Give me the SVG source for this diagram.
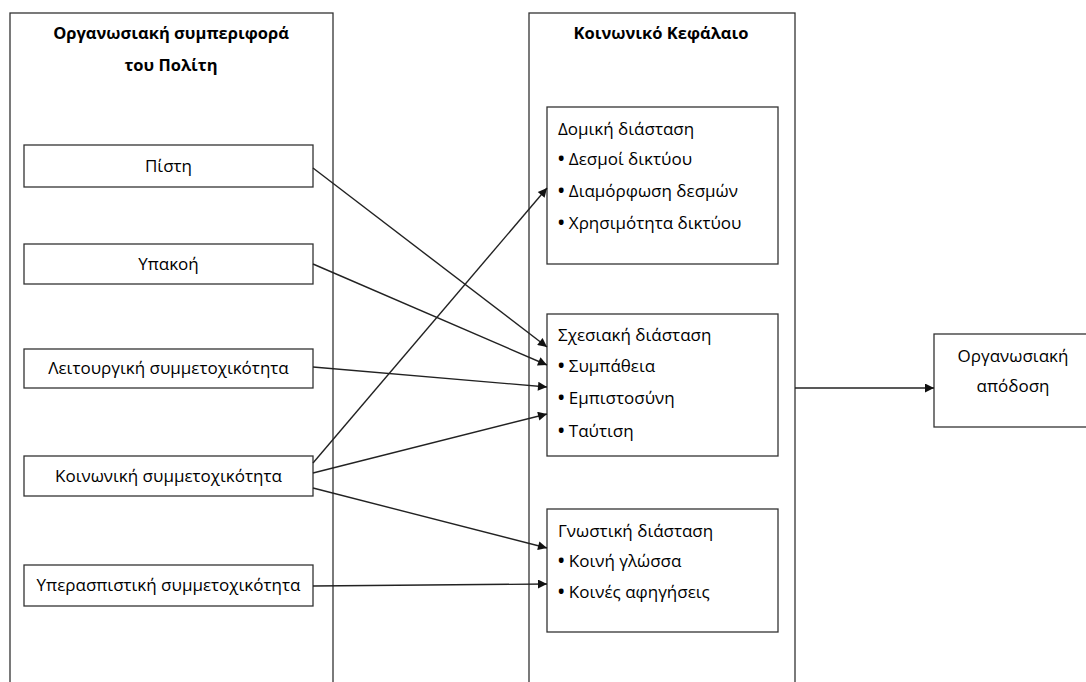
<svg xmlns="http://www.w3.org/2000/svg" width="1086" height="682" viewBox="0 0 1086 682">
<style>
.box{fill:#fff;stroke:#333;stroke-width:1.3}
.frame{fill:none;stroke:#333;stroke-width:1.3}
.t{font-family:"Open Sans","Noto Sans","Liberation Sans",sans-serif;font-size:17px;fill:#000}
.c{text-anchor:middle}
.b{font-weight:bold;font-size:16.5px}
.bu{font-weight:bold}
.con{stroke:#222;stroke-width:1.4;fill:none;marker-end:url(#ah)}
</style>
<defs>
<marker id="ah" viewBox="0 0 10 10" refX="10" refY="5" markerWidth="11" markerHeight="9" markerUnits="userSpaceOnUse" orient="auto">
<path d="M0,0 L10,5 L0,10 Z" fill="#111"/>
</marker>
</defs>
<rect width="1086" height="682" fill="#fff"/>
<g id="citizen-behaviour">
<rect class="frame" x="10" y="13" width="323" height="700"/>
<text class="t c b" x="171" y="39">Οργανωσιακή συμπεριφορά</text>
<text class="t c b" x="171" y="71">του Πολίτη</text>
</g>
<g id="social-capital">
<rect class="frame" x="529" y="13" width="266" height="700"/>
<text class="t c b" x="661" y="39">Κοινωνικό Κεφάλαιο</text>
</g>
<g id="pisti">
<rect class="box" x="24" y="145" width="289" height="42"/>
<text class="t c" x="168.5" y="172">Πίστη</text>
</g>
<g id="ypakoi">
<rect class="box" x="24" y="244" width="289" height="40"/>
<text class="t c" x="168.5" y="270">Υπακοή</text>
</g>
<g id="leitourgiki">
<rect class="box" x="24" y="349" width="289" height="39"/>
<text class="t c" x="168.5" y="374">Λειτουργική συμμετοχικότητα</text>
</g>
<g id="koinoniki">
<rect class="box" x="24" y="456" width="289" height="40"/>
<text class="t c" x="168.5" y="482">Κοινωνική συμμετοχικότητα</text>
</g>
<g id="yperaspistiki">
<rect class="box" x="24" y="565" width="289" height="41"/>
<text class="t c" x="168.5" y="591">Υπερασπιστική συμμετοχικότητα</text>
</g>
<g id="domiki">
<rect class="box" x="547" y="107" width="231" height="157"/>
<text class="t" x="558" y="135">Δομική διάσταση</text>
<text class="t" x="558" y="165"><tspan class="bu">•</tspan> Δεσμοί δικτύου</text>
<text class="t" x="558" y="197"><tspan class="bu">•</tspan> Διαμόρφωση δεσμών</text>
<text class="t" x="558" y="229"><tspan class="bu">•</tspan> Χρησιμότητα δικτύου</text>
</g>
<g id="sxesiaki">
<rect class="box" x="547" y="314" width="231" height="142"/>
<text class="t" x="558" y="341">Σχεσιακή διάσταση</text>
<text class="t" x="558" y="372"><tspan class="bu">•</tspan> Συμπάθεια</text>
<text class="t" x="558" y="404"><tspan class="bu">•</tspan> Εμπιστοσύνη</text>
<text class="t" x="558" y="437"><tspan class="bu">•</tspan> Ταύτιση</text>
</g>
<g id="gnostiki">
<rect class="box" x="547" y="509" width="231" height="123"/>
<text class="t" x="558" y="537">Γνωστική διάσταση</text>
<text class="t" x="558" y="567"><tspan class="bu">•</tspan> Κοινή γλώσσα</text>
<text class="t" x="558" y="598"><tspan class="bu">•</tspan> Κοινές αφηγήσεις</text>
</g>
<g id="apodosi">
<rect class="box" x="934" y="334" width="200" height="93"/>
<text class="t c" x="1013" y="362">Οργανωσιακή</text>
<text class="t c" x="1013" y="392">απόδοση</text>
</g>
<g id="connectors">
<line class="con" x1="313" y1="168" x2="547" y2="347"/>
<line class="con" x1="313" y1="264" x2="547" y2="365"/>
<line class="con" x1="313" y1="367" x2="547" y2="387"/>
<line class="con" x1="313" y1="463" x2="547" y2="188"/>
<line class="con" x1="313" y1="473" x2="547" y2="414"/>
<line class="con" x1="313" y1="488" x2="547" y2="548"/>
<line class="con" x1="313" y1="586" x2="547" y2="584"/>
<line class="con" x1="795" y1="388" x2="934" y2="388"/>
</g>
</svg>
